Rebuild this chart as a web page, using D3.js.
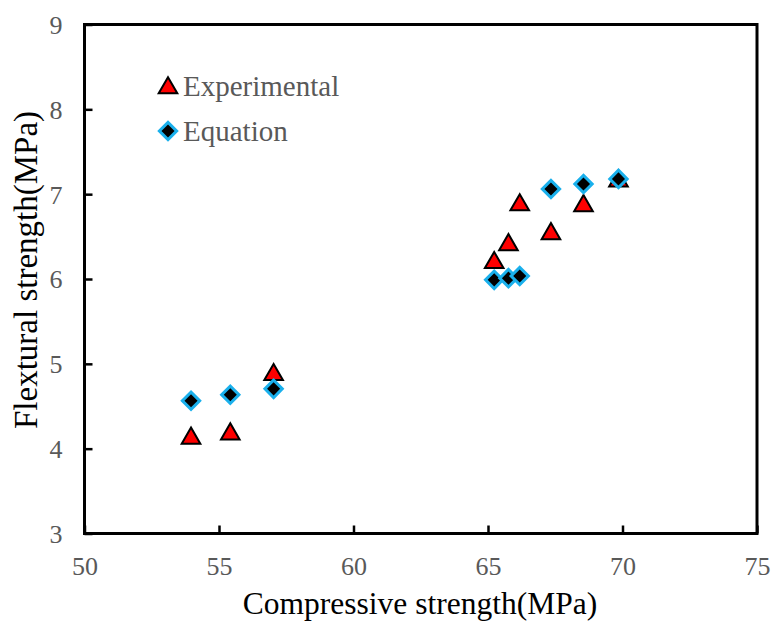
<!DOCTYPE html>
<html><head><meta charset="utf-8">
<script src="https://cdn.jsdelivr.net/npm/d3@7"></script>
<style>body{margin:0;background:#fff}svg{display:block}text{font-family:'Liberation Serif','Times New Roman',serif}</style>
</head><body>
<svg id="c" width="776" height="623"></svg>
<script>
const compressive = [53.96, 55.42, 57.03, 65.23, 65.76, 66.18, 67.34, 68.55, 69.85];
const experimental = [4.14, 4.19, 4.89, 6.21, 6.42, 6.89, 6.55, 6.88, 7.17];
const equation = [4.565, 4.635, 4.705, 5.99, 6.01, 6.035, 7.06, 7.12, 7.18];
const xTicks = [50, 55, 60, 65, 70, 75];
const yTicks = [3, 4, 5, 6, 7, 8, 9];
const seriesNames = ["Experimental", "Equation"];

const svg = d3.select("#c");
const L = 84.5, R = 757, T = 24.5, B = 533.5;
const x = d3.scaleLinear().domain([50, 75]).range([L, R]);
const y = d3.scaleLinear().domain([3, 9]).range([B, T]);
const font = "'Liberation Serif','Times New Roman',serif";
const gray = "#595959";

const xa = svg.append("g").attr("transform", `translate(0,${B})`)
  .call(d3.axisBottom(x).tickValues(xTicks).tickSize(-8).tickPadding(23).tickFormat(d3.format("d")));
const ya = svg.append("g").attr("transform", `translate(${L},0)`)
  .call(d3.axisLeft(y).tickValues(yTicks).tickSize(-8).tickPadding(22).tickFormat(d3.format("d")));
[xa, ya].forEach(a => {
  a.attr("font-family", font).attr("font-size", 26);
  a.select(".domain").remove();
  a.selectAll(".tick line").attr("stroke", "#000").attr("stroke-width", 2.5);
  a.selectAll(".tick text").attr("fill", gray);
});
xa.selectAll(".tick text").attr("dy", "0.71em");
ya.selectAll(".tick text").attr("dy", "0.34em");
svg.append("rect").attr("x", L).attr("y", T).attr("width", R - L).attr("height", B - T)
  .attr("fill", "none").attr("stroke", "#000").attr("stroke-width", 3);

const tri = d3.symbol().type(d3.symbolTriangle).size(150);
const dia = d3.symbol().type(d3.symbolSquare).size(150);

svg.append("g").selectAll("path").data(compressive).join("path")
  .attr("d", tri)
  .attr("transform", (d, i) => `translate(${x(d)},${y(experimental[i]) + 1.5})`)
  .attr("fill", "#ff0000").attr("stroke", "#000").attr("stroke-width", 2);
svg.append("g").selectAll("path").data(compressive).join("path")
  .attr("d", dia)
  .attr("transform", (d, i) => `translate(${x(d)},${y(equation[i])}) rotate(45)`)
  .attr("fill", "#000").attr("stroke", "#1ab0ec").attr("stroke-width", 3);

const lg = svg.append("g");
lg.append("path").attr("d", tri).attr("transform", "translate(168,88)")
  .attr("fill", "#ff0000").attr("stroke", "#000").attr("stroke-width", 2);
lg.append("path").attr("d", dia).attr("transform", "translate(168,131) rotate(45)")
  .attr("fill", "#000").attr("stroke", "#1ab0ec").attr("stroke-width", 3);
lg.selectAll("text").data(seriesNames).join("text")
  .attr("x", 183).attr("y", (d, i) => 96 + i * 45)
  .attr("fill", gray).attr("font-family", font).attr("font-size", 29).text(d => d);

svg.append("text").attr("x", 420).attr("y", 614).attr("text-anchor", "middle")
  .attr("fill", "#000").attr("font-family", font).attr("font-size", 31.5)
  .text("Compressive strength(MPa)");
svg.append("text").attr("transform", `translate(37,270) rotate(-90)`).attr("text-anchor", "middle")
  .attr("fill", "#000").attr("font-family", font).attr("font-size", 33)
  .text("Flextural strength(MPa)");
</script>
</body></html>
